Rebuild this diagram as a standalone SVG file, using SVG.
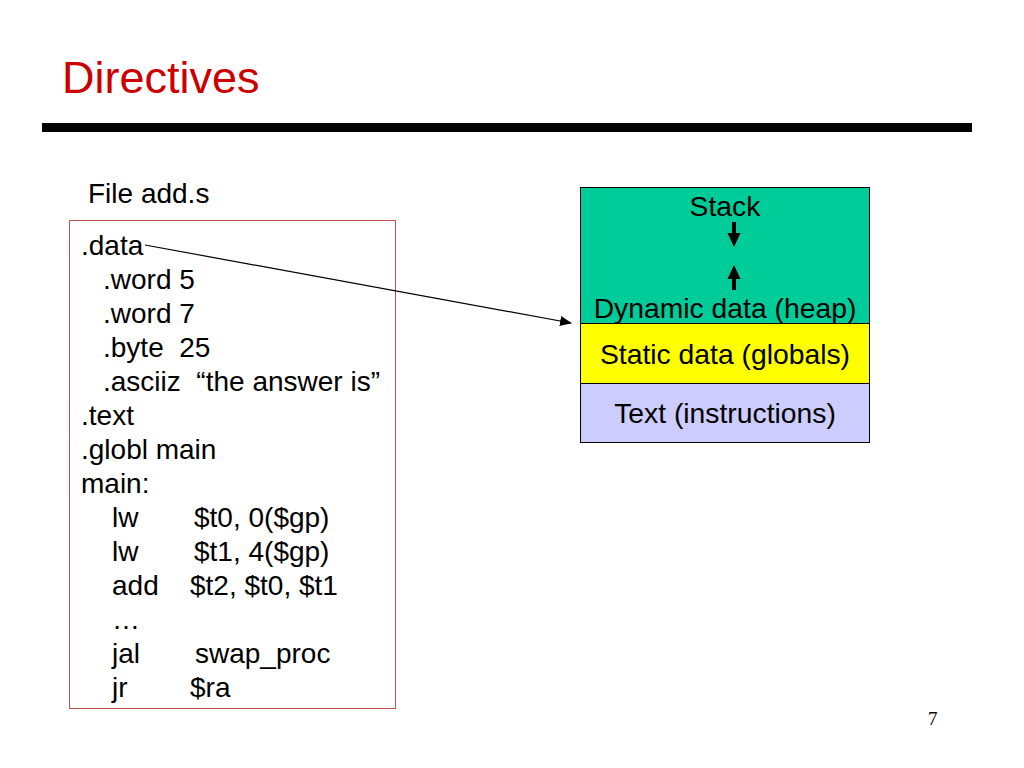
<svg xmlns="http://www.w3.org/2000/svg" width="1024" height="768" viewBox="0 0 1024 768">
<defs>
<style>
.t{font-family:"Liberation Sans",Arial,sans-serif;font-size:28px;fill:#000}
.m{font-size:28.3px}
.c{text-anchor:middle}
.seg{stroke:#000;stroke-width:1}
</style>
<marker id="ah" markerWidth="12" markerHeight="10" refX="11" refY="5" orient="auto" markerUnits="userSpaceOnUse">
<path d="M0,0 L12,5 L0,10 Z" fill="#000"/>
</marker>
</defs>
<rect width="1024" height="768" fill="#fff"/>
<text x="62" y="93" font-family="Liberation Sans, Arial, sans-serif" font-size="45" fill="#CC0000">Directives</text>
<rect x="42" y="123" width="930" height="9" fill="#000"/>
<g id="file-label"><text class="t" x="88" y="203">File add.s</text></g>
<g id="code">
<rect x="69.5" y="220.5" width="326" height="488" fill="none" stroke="#C0504D" stroke-width="1"/>
<text class="t" x="81" y="255">.data</text>
<text class="t" x="103" y="289">.word 5</text>
<text class="t" x="103" y="323">.word 7</text>
<text class="t" x="103" y="357" xml:space="preserve">.byte  25</text>
<text class="t" x="103" y="391" xml:space="preserve">.asciiz  “the answer is”</text>
<text class="t" x="81" y="425">.text</text>
<text class="t" x="81" y="459">.globl main</text>
<text class="t" x="81" y="493">main:</text>
<text class="t" x="112" y="527">lw</text><text class="t" x="194" y="527">$t0, 0($gp)</text>
<text class="t" x="112" y="561">lw</text><text class="t" x="194" y="561">$t1, 4($gp)</text>
<text class="t" x="112" y="595">add</text><text class="t" x="190" y="595">$t2, $t0, $t1</text>
<text class="t" x="112" y="629">…</text>
<text class="t" x="112" y="663">jal</text><text class="t" x="195" y="663">swap_proc</text>
<text class="t" x="112" y="697">jr</text><text class="t" x="190" y="697">$ra</text>
</g>
<g id="memory">
<g id="stack-heap">
<rect x="580.5" y="187.5" width="289" height="136" fill="#00CC99" class="seg"/>
<text class="t m c" x="725" y="216">Stack</text>
<rect x="732" y="222" width="4" height="12" fill="#000"/>
<path d="M727.5,233 L740.5,233 L734,247 Z" fill="#000"/>
<path d="M727.5,279 L740.5,279 L734,265 Z" fill="#000"/>
<rect x="732" y="278" width="4" height="12" fill="#000"/>
<text class="t m c" x="725" y="318">Dynamic data (heap)</text>
</g>
<g id="static">
<rect x="580.5" y="323.5" width="289" height="60" fill="#FFFF00" class="seg"/>
<text class="t m c" x="725" y="364">Static data (globals)</text>
</g>
<g id="text-seg">
<rect x="580.5" y="383.5" width="289" height="59" fill="#CCCCFF" class="seg"/>
<text class="t m c" x="725" y="423">Text (instructions)</text>
</g>
</g>
<g id="connectors">
<line x1="145" y1="245" x2="571" y2="323" stroke="#000" stroke-width="1.2" marker-end="url(#ah)"/>
</g>
<text x="928" y="725" font-family="Liberation Serif, Times New Roman, serif" font-size="19" fill="#000">7</text>
</svg>
